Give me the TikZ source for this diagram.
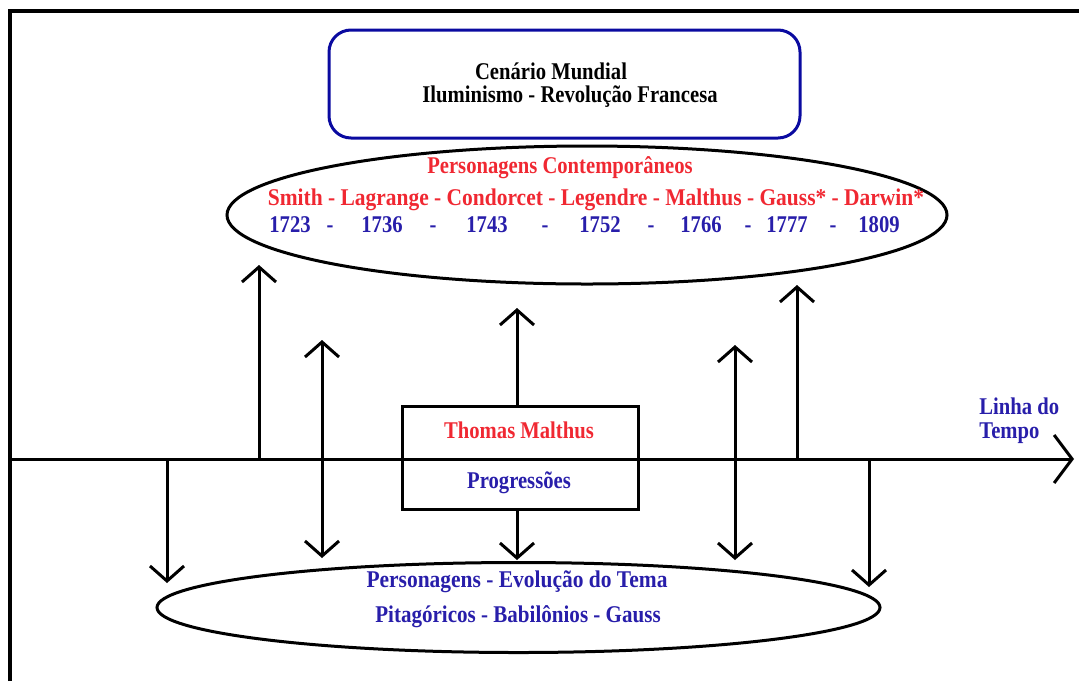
\documentclass[tikz,border=0pt]{standalone}
\usepackage{fontspec}
\setmainfont{Liberation Serif}[FakeStretch=0.86]
\usetikzlibrary{arrows.meta,shapes.geometric}
\definecolor{tred}{RGB}{240,40,50}
\definecolor{tblue}{RGB}{40,30,170}
\definecolor{bblue}{RGB}{10,10,160}
\begin{document}
\begin{tikzpicture}[x=0.5pt,y=-0.5pt,
  every node/.style={font=\fontsize{12}{14}\selectfont\bfseries},
  rtxt/.style={text=tred,inner sep=0pt},
  btxt/.style={text=tblue,inner sep=0pt},
  ytxt/.style={text=tblue,inner sep=0pt,anchor=base},
  ktxt/.style={text=black,inner sep=0pt},
  arr/.style={line width=1.5pt,-{Straight Barb[length=7.5pt,width=17pt,line width=1.5pt]}},
  darr/.style={line width=1.5pt,{Straight Barb[length=7.5pt,width=17pt,line width=1.5pt]}-{Straight Barb[length=7.5pt,width=17pt,line width=1.5pt]}},
  ell/.style={ellipse,draw,line width=1.5pt,inner sep=0pt}]
\useasboundingbox (0,0) rectangle (1079,681);
% frame
\coordinate (ftl) at (10,11);
\coordinate (ftr) at (1079,11);
\coordinate (fbl) at (10,681);
\draw[line width=2pt] (fbl) -- (ftl) -- (ftr);
% world scenario box
\node[draw=bblue,line width=1.5pt,rounded corners=11pt,minimum width=235.5pt,minimum height=54pt,inner sep=0pt] (world) at (564.5,84) {};
\node[ktxt] (w1) at (551,71) {Cenário Mundial};
\node[ktxt] (w2) at (570,97) {Iluminismo - Revolução Francesa};
% upper ellipse
\node[ell,minimum width=360pt,minimum height=69pt] (up) at (587,215) {};
\node[rtxt] (uptitle) at (560,168) {Personagens Contemporâneos};
\node[rtxt] (names) at (596,200) {\scalebox{1.04}[1]{Smith - Lagrange - Condorcet - Legendre - Malthus - Gauss* - Darwin*}};
\node[ytxt] (y1) at (290,232) {1723};
\node[ytxt] (d1) at (330,232) {-};
\node[ytxt] (y2) at (382,232) {1736};
\node[ytxt] (d2) at (433,232) {-};
\node[ytxt] (y3) at (487,232) {1743};
\node[ytxt] (d3) at (545,232) {-};
\node[ytxt] (y4) at (600,232) {1752};
\node[ytxt] (d4) at (651,232) {-};
\node[ytxt] (y5) at (701,232) {1766};
\node[ytxt] (d5) at (748,232) {-};
\node[ytxt] (y6) at (787,232) {1777};
\node[ytxt] (d6) at (833,232) {-};
\node[ytxt] (y7) at (879,232) {1809};
% lower ellipse
\node[ell,minimum width=361.5pt,minimum height=45pt] (low) at (518.5,607.5) {};
\node[btxt] (lowt) at (517,582) {\scalebox{1.04}[1]{Personagens - Evolução do Tema}};
\node[btxt] (lowb) at (518,617) {\scalebox{1.02}[1]{Pitagóricos - Babilônios - Gauss}};
% timeline
\coordinate (tl0) at (10,459);
\coordinate (tl1) at (1074,459);
\draw[line width=1.5pt,-{Straight Barb[length=9pt,width=24pt,line width=1.5pt]}] (tl0) -- (tl1);
\node[btxt,align=left,anchor=north west] (lt) at (979,397) {Linha do\\[-2pt]Tempo};
% central box
\node[draw,line width=1.5pt,fill=none,minimum width=118pt,minimum height=51.5pt,inner sep=0pt] (box) at (520,457.5) {};
\node[rtxt] (tm) at (519,430) {Thomas Malthus};
\node[btxt] (pr) at (519,483) {Progressões};
% arrows
\coordinate (a1s) at (259,459); \coordinate (a1e) at (259,265);
\coordinate (a2s) at (797,459); \coordinate (a2e) at (797,285);
\coordinate (a3e) at (517,308);
\coordinate (a4s) at (322,340); \coordinate (a4e) at (322,558);
\coordinate (a5s) at (735,345); \coordinate (a5e) at (735,560);
\coordinate (a6e) at (517,560);
\coordinate (a7s) at (167,459); \coordinate (a7e) at (167,583);
\coordinate (a8s) at (869,459); \coordinate (a8e) at (869,587);
\draw[arr] (a1s) -- (a1e);
\draw[arr] (a2s) -- (a2e);
\draw[arr] (box.north -| a3e) -- (a3e);
\draw[darr] (a4s) -- (a4e);
\draw[darr] (a5s) -- (a5e);
\draw[arr] (box.south -| a6e) -- (a6e);
\draw[arr] (a7s) -- (a7e);
\draw[arr] (a8s) -- (a8e);
\end{tikzpicture}
\end{document}
